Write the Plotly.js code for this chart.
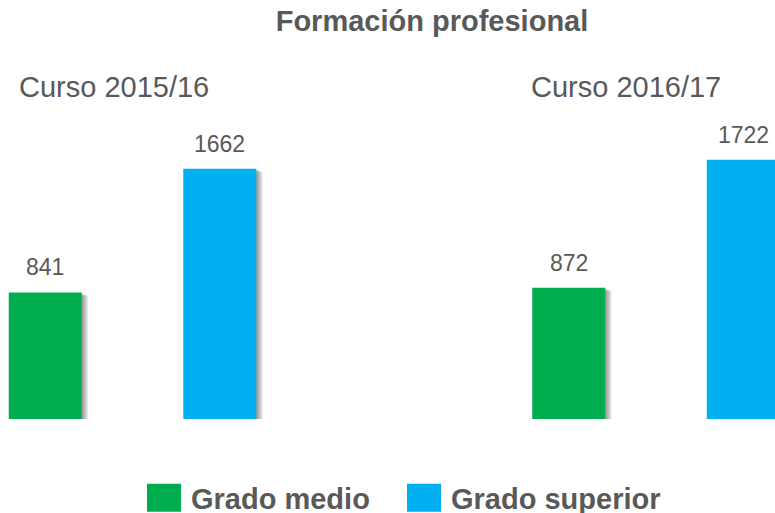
<!DOCTYPE html>
<html>
<head>
<meta charset="utf-8">
<script src="https://cdn.plot.ly/plotly-3.0.1.min.js"></script>
<style>
html,body{margin:0;padding:0;background:#fff;}
#chart{width:775px;height:513px;}
</style>
</head>
<body>
<div id="chart"></div>
<script>
// ---- data ----
const categories = ['Curso 2015/16', 'Curso 2016/17'];
const seriesNames = ['Grado medio', 'Grado superior'];
const gradoMedio = [841, 872];
const gradoSuperior = [1662, 1722];
const chartTitle = 'Formación profesional';

// ---- styles ----
const colors = ['#00AD4E', '#00B0F0'];
const textColor = '#595959';
const FONT = 'Liberation Sans, Arial, Helvetica, sans-serif';
const pxPerCat = 523.5;           // pixels per category unit
const plotH = 419;
const yMax = 2784;                // y range so 1 unit ~0.1505 px
const pxPerVal = plotH / yMax;
const barWidth = 73 / pxPerCat;
const offsets = [-0.2364, 0.0970];
const legendIds = ['legend', 'legend2'];
const legendLeft = [141, 401];
const seriesValues = [gradoMedio, gradoSuperior];

const traces = [];
// soft shadow layers
[1, 2, 3].forEach(function (k) {
  seriesValues.forEach(function (vals, s) {
    traces.push({
      type: 'bar',
      x: categories,
      y: vals,
      base: -k / pxPerVal,
      width: barWidth,
      offset: offsets[s] + (k * 2) / pxPerCat,
      marker: {color: 'rgba(0,0,0,0.14)', line: {width: 0}},
      showlegend: false,
      hoverinfo: 'skip'
    });
  });
});
// main bars
seriesValues.forEach(function (vals, s) {
  traces.push({
    type: 'bar',
    name: seriesNames[s],
    legend: legendIds[s],
    x: categories,
    y: vals,
    width: barWidth,
    offset: offsets[s],
    marker: {color: colors[s], line: {width: 0}}
  });
});

const annotations = [];
// value labels
seriesValues.forEach(function (vals, s) {
  vals.forEach(function (v, i) {
    annotations.push({
      x: categories[i], y: v, xref: 'x', yref: 'y',
      text: String(v), showarrow: false,
      xanchor: 'center', yanchor: 'middle',
      xshift: (offsets[s] + barWidth / 2) * pxPerCat,
      yshift: 25,
      font: {family: FONT, size: 23, color: textColor}
    });
  });
});
// group labels
const groupShift = [-115.5, -127];
categories.forEach(function (c, i) {
  annotations.push({
    x: c, y: (plotH - 86.5) / plotH, xref: 'x', yref: 'paper', yanchor: 'middle',
    text: c, showarrow: false, xanchor: 'left',
    xshift: groupShift[i],
    font: {family: FONT, size: 29, color: textColor}
  });
});

function legendStyle(left) {
  return {
    orientation: 'h',
    xref: 'container', yref: 'container',
    x: left / 775, xanchor: 'left',
    y: 1 - 498 / 513, yanchor: 'middle',
    font: {family: FONT, size: 29, color: textColor, weight: 'bold'},
    itemwidth: 40,
    bgcolor: 'rgba(0,0,0,0)'
  };
}

const layout = {
  width: 775, height: 513,
  margin: {l: 0, r: 0, t: 0, b: 94, pad: 0},
  paper_bgcolor: '#ffffff', plot_bgcolor: '#ffffff',
  barmode: 'overlay',
  title: {
    text: '<b>' + chartTitle + '</b>',
    x: 432 / 775, xanchor: 'center', xref: 'paper',
    y: 1 - 21 / 513, yanchor: 'middle', yref: 'container',
    font: {family: FONT, size: 29, color: textColor}
  },
  xaxis: {
    type: 'category', range: [-0.2531, 1.2273],
    showticklabels: false, showgrid: false, zeroline: false,
    showline: false, ticks: '', fixedrange: true
  },
  yaxis: {
    range: [0, yMax], visible: false, showgrid: false,
    zeroline: false, fixedrange: true
  },
  showlegend: true,
  legend: legendStyle(legendLeft[0]),
  legend2: legendStyle(legendLeft[1]),
  annotations: annotations
};

Plotly.newPlot('chart', traces, layout, {displayModeBar: false, staticPlot: true}).then(function (gd) {
  // enlarge the legend colour squares
  gd.querySelectorAll('g[class^="legend"] .legendpoints path').forEach(function (p) {
    p.setAttribute('d', 'M15,14H-19V-14H15Z');
  });
});
</script>
</body>
</html>
